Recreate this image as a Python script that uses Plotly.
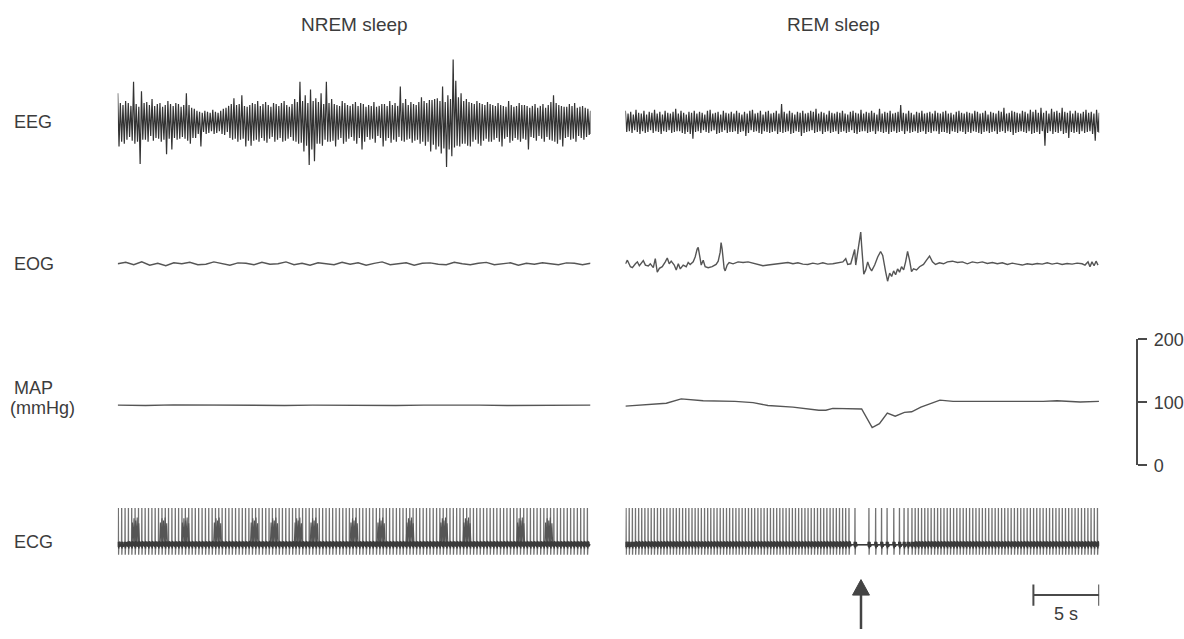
import numpy as np
import plotly.graph_objects as go

# ---------------- data ----------------
NREM_DUR_S = 35.9
REM_DUR_S = 36.0

# EEG: upper / lower excursion of the dense trace in successive short windows
eeg_nrem_hi = [
    30, 20, 18, 22, 20, 17, 42, 19, 16, 32,
    20, 21, 18, 24, 17, 19, 20, 16, 18, 22,
    19, 17, 20, 19, 16, 18, 30, 18, 15, 14,
    12, 11, 10, 12, 11, 10, 13, 11, 10, 12,
    14, 15, 17, 19, 25, 18, 19, 28, 17, 16,
    18, 20, 19, 22, 17, 19, 21, 18, 16, 20,
    19, 17, 20, 22, 18, 16, 19, 24, 21, 42,
    22, 28, 20, 34, 22, 25, 21, 30, 19, 42,
    20, 24, 19, 18, 17, 22, 20, 18, 17, 19,
    21, 17, 20, 19, 16, 18, 17, 21, 16, 17,
    19, 19, 17, 22, 18, 20, 17, 37, 20, 24,
    18, 21, 19, 18, 21, 26, 22, 20, 23, 23,
    24, 25, 22, 37, 21, 28, 24, 65, 43, 26,
    30, 22, 24, 21, 20, 19, 22, 20, 19, 18,
    21, 19, 18, 17, 20, 18, 17, 16, 22, 18,
    16, 17, 20, 18, 18, 17, 15, 17, 19, 15,
    17, 19, 15, 18, 21, 28, 20, 18, 17, 16,
    16, 19, 17, 20, 15, 16, 17, 15, 14, 12,
]
eeg_nrem_lo = [
    -25, -20, -22, -18, -15, -19, -22, -20, -43, -18,
    -18, -20, -14, -19, -16, -17, -20, -18, -33, -17,
    -28, -16, -18, -17, -15, -17, -19, -22, -16, -16,
    -12, -25, -10, -12, -11, -9, -12, -11, -9, -12,
    -13, -10, -16, -18, -17, -20, -18, -17, -25, -19,
    -24, -19, -18, -20, -16, -19, -21, -17, -15, -20,
    -18, -16, -20, -19, -17, -15, -19, -20, -22, -21,
    -30, -24, -44, -28, -40, -22, -22, -24, -18, -20,
    -20, -19, -25, -18, -16, -22, -20, -17, -15, -19,
    -22, -16, -28, -20, -15, -18, -17, -21, -14, -16,
    -25, -19, -16, -21, -18, -20, -15, -19, -20, -18,
    -17, -21, -19, -18, -22, -20, -24, -20, -30, -23,
    -28, -25, -32, -27, -46, -28, -35, -26, -24, -25,
    -22, -22, -24, -25, -20, -18, -22, -24, -19, -17,
    -20, -20, -18, -16, -20, -25, -17, -15, -21, -19,
    -16, -18, -20, -17, -18, -28, -15, -16, -19, -14,
    -17, -20, -15, -18, -19, -20, -22, -18, -25, -16,
    -15, -18, -17, -20, -14, -16, -18, -15, -13, -12,
]
eeg_rem_hi = [
    12, 9, 11, 8, 13, 10, 9, 12, 8, 11,
    10, 13, 9, 11, 8, 12, 10, 9, 11, 14,
    9, 12, 10, 8, 11, 10, 12, 9, 11, 10,
    8, 12, 13, 9, 10, 11, 8, 12, 10, 9,
    11, 9, 12, 10, 8, 11, 9, 12, 13, 9,
    10, 12, 8, 11, 12, 9, 10, 12, 9, 19,
    11, 9, 12, 10, 8, 11, 10, 12, 9, 10,
    12, 11, 14, 9, 11, 10, 8, 12, 10, 9,
    11, 10, 12, 9, 8, 11, 12, 10, 9, 13,
    9, 11, 10, 12, 10, 8, 14, 9, 11, 10,
    12, 9, 10, 11, 18, 10, 9, 12, 10, 8,
    11, 10, 12, 9, 10, 11, 9, 12, 10, 9,
    11, 12, 9, 10, 8, 11, 12, 10, 9, 11,
    10, 9, 12, 11, 9, 10, 12, 8, 11, 10,
    9, 12, 11, 15, 9, 10, 12, 11, 10, 9,
    12, 11, 9, 13, 11, 13, 10, 15, 10, 12,
    9, 14, 11, 12, 10, 15, 11, 10, 12, 9,
    12, 10, 9, 11, 13, 10, 11, 9, 13, 10,
]
eeg_rem_lo = [
    -10, -9, -11, -8, -10, -12, -9, -11, -10, -8,
    -11, -9, -10, -12, -9, -10, -8, -11, -10, -9,
    -9, -11, -12, -10, -12, -17, -10, -9, -11, -8,
    -10, -11, -9, -8, -12, -11, -10, -8, -11, -10,
    -10, -9, -12, -10, -9, -14, -11, -8, -10, -9,
    -11, -12, -9, -10, -11, -10, -9, -12, -10, -11,
    -10, -9, -12, -11, -9, -10, -14, -11, -10, -9,
    -8, -11, -10, -9, -12, -10, -9, -11, -10, -9,
    -12, -10, -9, -11, -10, -8, -11, -12, -10, -9,
    -9, -11, -10, -9, -12, -9, -10, -11, -10, -12,
    -10, -9, -11, -10, -9, -12, -9, -11, -10, -9,
    -11, -10, -9, -12, -10, -11, -9, -9, -12, -10,
    -10, -11, -12, -9, -10, -11, -9, -10, -12, -10,
    -11, -9, -10, -11, -12, -10, -9, -11, -10, -9,
    -12, -10, -9, -11, -9, -10, -13, -11, -10, -9,
    -10, -11, -9, -12, -11, -10, -12, -9, -24, -11,
    -9, -12, -10, -11, -9, -12, -11, -16, -10, -11,
    -10, -12, -9, -11, -10, -9, -12, -19, -10, -11,
]

eog_nrem_uv = [
    0, 1.5, -1, 2, -1.5, 0.5, -2, 1, 0, 1.5, -1, -0.5, 2, 0, -1.5, 1, 0.5, -1, 1.5, -0.5,
    0, 2, -1, 0.5, -1.5, 1, 0, -1, 1.5, -0.5, 1, -1.5, 0.5, 2, -1, 0, 1, -1.5, 0.5, 1,
    -0.5, -1, 1.5, 0, -1, 0.5, 1.5, -1, 0, 1, -1.5, 0.5, -0.5, 1, 0, -1, 1, 0.5, -1, 0.5,
]

eog_rem_t = [
    0, 0.15, 0.38, 0.53, 0.76, 0.91, 1.06, 1.21, 1.36, 1.52, 1.74, 1.89, 2.12, 2.27, 2.42,
    2.58, 2.80, 3.03, 3.18, 3.33, 3.48, 3.71, 3.86, 4.02, 4.17, 4.39, 4.62, 4.77, 4.92,
    5.15, 5.30, 5.45, 5.53, 5.68, 5.76, 5.91, 6.06, 6.29, 6.59, 6.89, 7.05, 7.20, 7.27,
    7.35, 7.50, 7.58, 7.73, 7.88, 8.18, 8.56, 8.94, 9.32, 9.70, 10.08, 10.45, 10.83, 11.21,
    11.59, 11.97, 12.35, 12.73, 13.11, 13.48, 13.86, 14.24, 14.62, 15.00, 15.38, 15.76,
    16.14, 16.52, 16.74, 16.89, 17.12, 17.27, 17.42, 17.50, 17.65, 17.80, 17.88, 17.95,
    18.11, 18.26, 18.41, 18.56, 18.71, 18.94, 19.17, 19.39, 19.55, 19.77, 19.92, 20.08,
    20.23, 20.38, 20.53, 20.68, 20.83, 20.98, 21.14, 21.29, 21.44, 21.59, 21.74, 21.89,
    22.12, 22.35, 22.65, 22.88, 23.11, 23.33, 23.56, 23.86, 24.17, 24.47, 24.85, 25.23,
    25.61, 25.98, 26.36, 26.74, 27.12, 27.50, 27.88, 28.26, 28.64, 29.02, 29.39, 29.77,
    30.15, 30.53, 30.91, 31.29, 31.67, 32.05, 32.42, 32.80, 33.18, 33.56, 33.94, 34.32,
    34.70, 34.92, 35.15, 35.30, 35.45, 35.61, 35.76, 35.91,
]
eog_rem_uv = [
    0, 3.7, -3, -4, 0, 2, -2, 1, 3.3, -1.3,
    -2.3, 0, -4, 5.3, -8.7, -4.7, -3, 2, 6, 0,
    2.7, -1.3, -6.3, 0, -5.3, -1.3, -3, 1.3, -0.7, 2,
    7, 15.3, 17, 5.3, -1.3, 3.7, -3, -4, -3, -0.7,
    2.7, 12, 22, 15.3, -4.7, -7.3, -1.3, 1.3, 0, 2,
    1.3, 2, 0.7, -0.7, -2, -1.3, -0.7, 0, 0.7, 1.3,
    0, 1, -0.3, -0.7, 0.7, -0.3, 1, -0.3, 0, 1,
    2, 5.3, -0.7, 0, 8.7, 14.7, -1.3, 12, 25.3, 32.7,
    18.7, -10.7, -6.3, 2, -4, -7.3, -1.3, 7, 12.7, 8.7,
    -8, -18, -9.7, -13, -7.3, -11.3, -5.3, -8.7, -3, -6.3,
    2, 12.7, 3.7, -8, -5.3, -6.3, -3, -0.7, 3.7, 8,
    2, -0.7, 1, 0, 2, 2.7, 1.3, 2, 0, 2,
    1, 2, 0.3, 1.3, 0, 1, -0.7, 0.7, -0.3, -1.3,
    0, -0.7, 0.3, -0.3, 1, -0.3, 0.7, -0.7, 0.3, -0.3,
    0.7, 0, -1.3, 2, -3, 2, -2, 2.7, -1.3,
]

map_nrem_mmhg = [95.5, 95, 96, 95.5, 95, 94.5, 95, 95.5, 95, 94.5, 95, 95.5, 96, 95.5, 95, 95.5, 95, 95.5]
map_rem_t = [0, 3.11, 4.24, 5.91, 8.33, 9.70, 10.83, 12.73, 14.70, 15.23, 15.76, 17.95, 18.75,
             19.30, 19.90, 20.50, 21.20, 21.75, 22.45, 23.90, 24.90, 29.02, 31.74, 32.80, 34.55, 35.98]
map_rem_mmhg = [94, 98.5, 105.5, 102.5, 101.5, 99.5, 95, 92.4, 87.4, 87.4, 90.4, 89.5, 60,
                66, 83, 78, 84, 85, 92.4, 103.5, 101.5, 101, 101.5, 102.5, 100.5, 101.5]

ecg_nrem_first_beat_s = 0.05
ecg_nrem_rr_ms = [
    252, 258, 255, 249, 256, 260, 253, 251, 257, 254,
    250, 256, 259, 253, 248, 255, 257, 252, 254, 258,
    255, 251, 249, 256, 260, 254, 252, 257, 253, 250,
    256, 258, 254, 251, 255, 259, 253, 248, 254, 257,
    252, 255, 260, 256, 251, 253, 258, 254, 250, 256,
    257, 253, 249, 255, 259, 254, 252, 256, 258, 251,
    254, 257, 253, 250, 256, 260, 255, 252, 249, 255,
    258, 254, 251, 256, 253, 257, 259, 252, 255, 250,
    253, 256, 258, 254, 249, 255, 257, 253, 251, 256,
    259, 254, 252, 257, 255, 250, 253, 258, 256, 252,
    255, 251, 257, 254, 260, 253, 249, 256, 258, 254,
    252, 256, 253, 259, 255, 251, 254, 257, 250, 255,
    258, 253, 256, 252, 254, 259, 255, 251, 257, 253,
    256, 250, 254, 258, 253, 255, 257, 252, 256, 254,
]
# darker mid-height bursts seen on the NREM ECG trace (s)
ecg_nrem_burst_t = [1.36, 3.48, 5.15, 7.58, 10.38, 11.89, 13.71, 14.92, 17.95, 20.0,
                    22.2, 24.77, 26.52, 30.6, 32.73]
ecg_rem_first_beat_s = 0.05
ecg_rem_rr_ms = [
    238, 242, 236, 240, 235, 239, 243, 237, 234, 241,
    240, 236, 238, 244, 239, 235, 237, 242, 238, 236,
    241, 237, 234, 239, 243, 238, 236, 240, 235, 239,
    242, 238, 236, 241, 237, 234, 240, 243, 239, 236,
    238, 241, 235, 237, 242, 239, 236, 240, 238, 234,
    239, 243, 237, 235, 240, 238, 242, 236, 239, 241,
    237, 235, 240, 238, 243, 236, 239, 241, 237, 234,
    250, 455,
    1060, 510, 450, 420, 510, 430, 350, 300, 300,
    244, 240, 247, 243, 238, 245, 249, 242, 240, 246,
    243, 239, 248, 244, 241, 245, 238, 247, 243, 240,
    246, 242, 239, 244, 248, 241, 245, 243, 238, 246,
    242, 247, 240, 244, 239, 245, 243, 248, 241, 244,
    240, 246, 242, 239, 245, 243, 241, 244, 240, 246,
    243, 239, 247, 242, 245, 240, 244, 241, 246, 243,
]
ecg_r_amp = 38
map_ticks = [0, 100, 200]
scale_bar_s = 5
arrow_t_s = 17.9

# ---------------- styling / construction ----------------
W, H = 1184, 639
TXT = "#3c3c3c"
FONT = "Liberation Sans, Arial, sans-serif"

def px_x(p):
    return p / W

def px_y(p):
    return 1 - p / H

# ECG waveform shape per beat (time offset s, relative amplitude)
ECG_DT = [-0.06, -0.045, -0.03, -0.012, 0.0, 0.012, 0.028, 0.05, 0.075, 0.1, 0.13, 0.16]
ECG_REL = [0.0, 0.08, -0.06, 0.0, 1.0, -0.27, -0.1, 0.08, -0.05, 0.07, -0.04, 0.0]
# the same beat without the QRS spike: dark baseline band of the recording
ECG_BASE_REL = [0.0, 0.08, -0.06, 0.0, 0.05, -0.06, -0.1, 0.08, -0.05, 0.07, -0.04, 0.0]
BURST_DT = [-0.3, -0.24, -0.18, -0.12, -0.06, 0.0, 0.06, 0.12, 0.18, 0.24, 0.3]
BURST_REL = [0.0, 0.6, 0.02, 0.72, 0.0, 0.66, 0.03, 0.74, 0.0, 0.58, 0.0]

def beat_times(first, rr_ms, dur):
    beats = first + np.concatenate([[0.0], np.cumsum(np.array(rr_ms) / 1000.0)])
    return beats[beats < dur - 0.05]

def ecg_wave(beats, rel, dur):
    xs, ys = [0.0], [0.0]
    for b in beats:
        for dt, r in zip(ECG_DT, rel):
            xs.append(b + dt)
            ys.append(r * ecg_r_amp)
    xs.append(dur)
    ys.append(0.0)
    return np.clip(xs, 0, dur), ys

def bursts(times):
    xs, ys = [], []
    for b in times:
        for dt, r in zip(BURST_DT, BURST_REL):
            xs.append(b + dt)
            ys.append(r * ecg_r_amp)
        xs.append(None)
        ys.append(None)
    return xs, ys

def envelope_trace(hi, lo, dur):
    t = np.linspace(0, dur, len(hi))
    half = dur / (len(hi) - 1) / 2
    xs = np.empty(2 * len(hi))
    ys = np.empty(2 * len(hi))
    xs[0::2] = t
    xs[1::2] = np.minimum(t + half, dur)
    ys[0::2] = hi
    ys[1::2] = lo
    return xs, ys

fig = go.Figure()

def add(x, y, xa, ya, color, width):
    fig.add_trace(go.Scatter(x=x, y=y, xaxis=xa, yaxis=ya, mode="lines",
                             line=dict(color=color, width=width), hoverinfo="skip"))

ex, ey = envelope_trace(eeg_nrem_hi, eeg_nrem_lo, NREM_DUR_S)
add(ex, ey, "x", "y", "#333333", 1.2)
ex, ey = envelope_trace(eeg_rem_hi, eeg_rem_lo, REM_DUR_S)
add(ex, ey, "x2", "y", "#333333", 1.2)
add(np.linspace(0, NREM_DUR_S, len(eog_nrem_uv)), eog_nrem_uv, "x", "y2", "#555555", 1.4)
add(eog_rem_t, eog_rem_uv, "x2", "y2", "#555555", 1.4)
add(np.linspace(0, NREM_DUR_S, len(map_nrem_mmhg)), map_nrem_mmhg, "x", "y3", "#555555", 1.4)
add(map_rem_t, map_rem_mmhg, "x2", "y3", "#555555", 1.4)

for first, rr, dur, xa in ((ecg_nrem_first_beat_s, ecg_nrem_rr_ms, NREM_DUR_S, "x"),
                           (ecg_rem_first_beat_s, ecg_rem_rr_ms, REM_DUR_S, "x2")):
    bt = beat_times(first, rr, dur)
    ex, ey = ecg_wave(bt, ECG_REL, dur)
    add(ex, ey, xa, "y4", "#727272", 1.3)
    if xa == "x":
        bx, by = bursts(ecg_nrem_burst_t)
        add(bx, by, xa, "y4", "#555555", 1.1)
    ex, ey = ecg_wave(bt, ECG_BASE_REL, dur)
    add(ex, ey, xa, "y4", "#3a3a3a", 1.5)

hidden = dict(visible=False, showgrid=False, zeroline=False, fixedrange=True)
fig.update_layout(
    width=W, height=H, autosize=False,
    margin=dict(l=0, r=0, t=0, b=0),
    paper_bgcolor="white", plot_bgcolor="rgba(0,0,0,0)",
    showlegend=False,
    font=dict(family=FONT, color=TXT, size=18),
    xaxis=dict(domain=[px_x(118), px_x(592)], range=[0, NREM_DUR_S], anchor="y4", **hidden),
    xaxis2=dict(domain=[px_x(627), px_x(1102)], range=[0, REM_DUR_S], anchor="y4", **hidden),
    yaxis=dict(domain=[px_y(186), px_y(46)], range=[-70, 70], anchor="x", **hidden),
    yaxis2=dict(domain=[px_y(302), px_y(222)], range=[-40, 40], anchor="x", **hidden),
    yaxis3=dict(domain=[px_y(470), px_y(340)], range=[0, 200], anchor="free",
                position=px_x(1140), side="right", showline=True, linecolor="#4a4a4a",
                linewidth=2, ticks="outside", ticklen=9, tickwidth=2, tickcolor="#4a4a4a",
                tickvals=map_ticks, ticktext=[str(v) for v in map_ticks],
                tickfont=dict(size=18, color=TXT, family=FONT), ticklabelstandoff=3,
                showgrid=False, zeroline=False, fixedrange=True),
    yaxis4=dict(domain=[px_y(592), px_y(512)], range=[-40, 40], anchor="x", **hidden),
)

# 5 s scale bar
sb_y = px_y(604)
fig.add_shape(type="line", xref="x2", yref="paper", x0=REM_DUR_S - scale_bar_s, x1=REM_DUR_S,
              y0=sb_y, y1=sb_y, line=dict(color="#4a4a4a", width=2))
for xv in (REM_DUR_S - scale_bar_s, REM_DUR_S):
    fig.add_shape(type="line", xref="x2", yref="paper", x0=xv, x1=xv,
                  y0=px_y(593), y1=px_y(615), line=dict(color="#4a4a4a", width=2))
fig.add_annotation(xref="x2", yref="paper", x=REM_DUR_S - scale_bar_s / 2, y=px_y(624),
                   text=f"{scale_bar_s} s", showarrow=False, xanchor="center", yanchor="middle",
                   font=dict(size=18, color=TXT))

# event arrow
fig.add_shape(type="line", xref="x2", yref="paper", x0=arrow_t_s, x1=arrow_t_s,
              y0=px_y(639), y1=px_y(602), line=dict(color="#444444", width=2.5))
hw = 8.5 / 13.2
fig.add_shape(type="path", xref="x2", yref="paper",
              path=f"M {arrow_t_s - hw},{px_y(604)} L {arrow_t_s + hw},{px_y(604)} L {arrow_t_s},{px_y(588)} Z",
              fillcolor="#444444", line=dict(color="#444444", width=1))

# labels
def label(text, x, y, anchor="left", size=18):
    fig.add_annotation(xref="paper", yref="paper", x=px_x(x), y=px_y(y), text=text,
                       showarrow=False, xanchor=anchor, yanchor="middle",
                       font=dict(size=size, color=TXT, family=FONT))

label("NREM sleep", 355, 15, "center", 19)
label("REM sleep", 836, 15, "center", 19)
label("EEG", 12, 116)
label("EOG", 12, 262)
label("MAP", 12, 390)
label("(mmHg)", 8, 411)
label("ECG", 12, 549)

fig.write_html("out.html")
